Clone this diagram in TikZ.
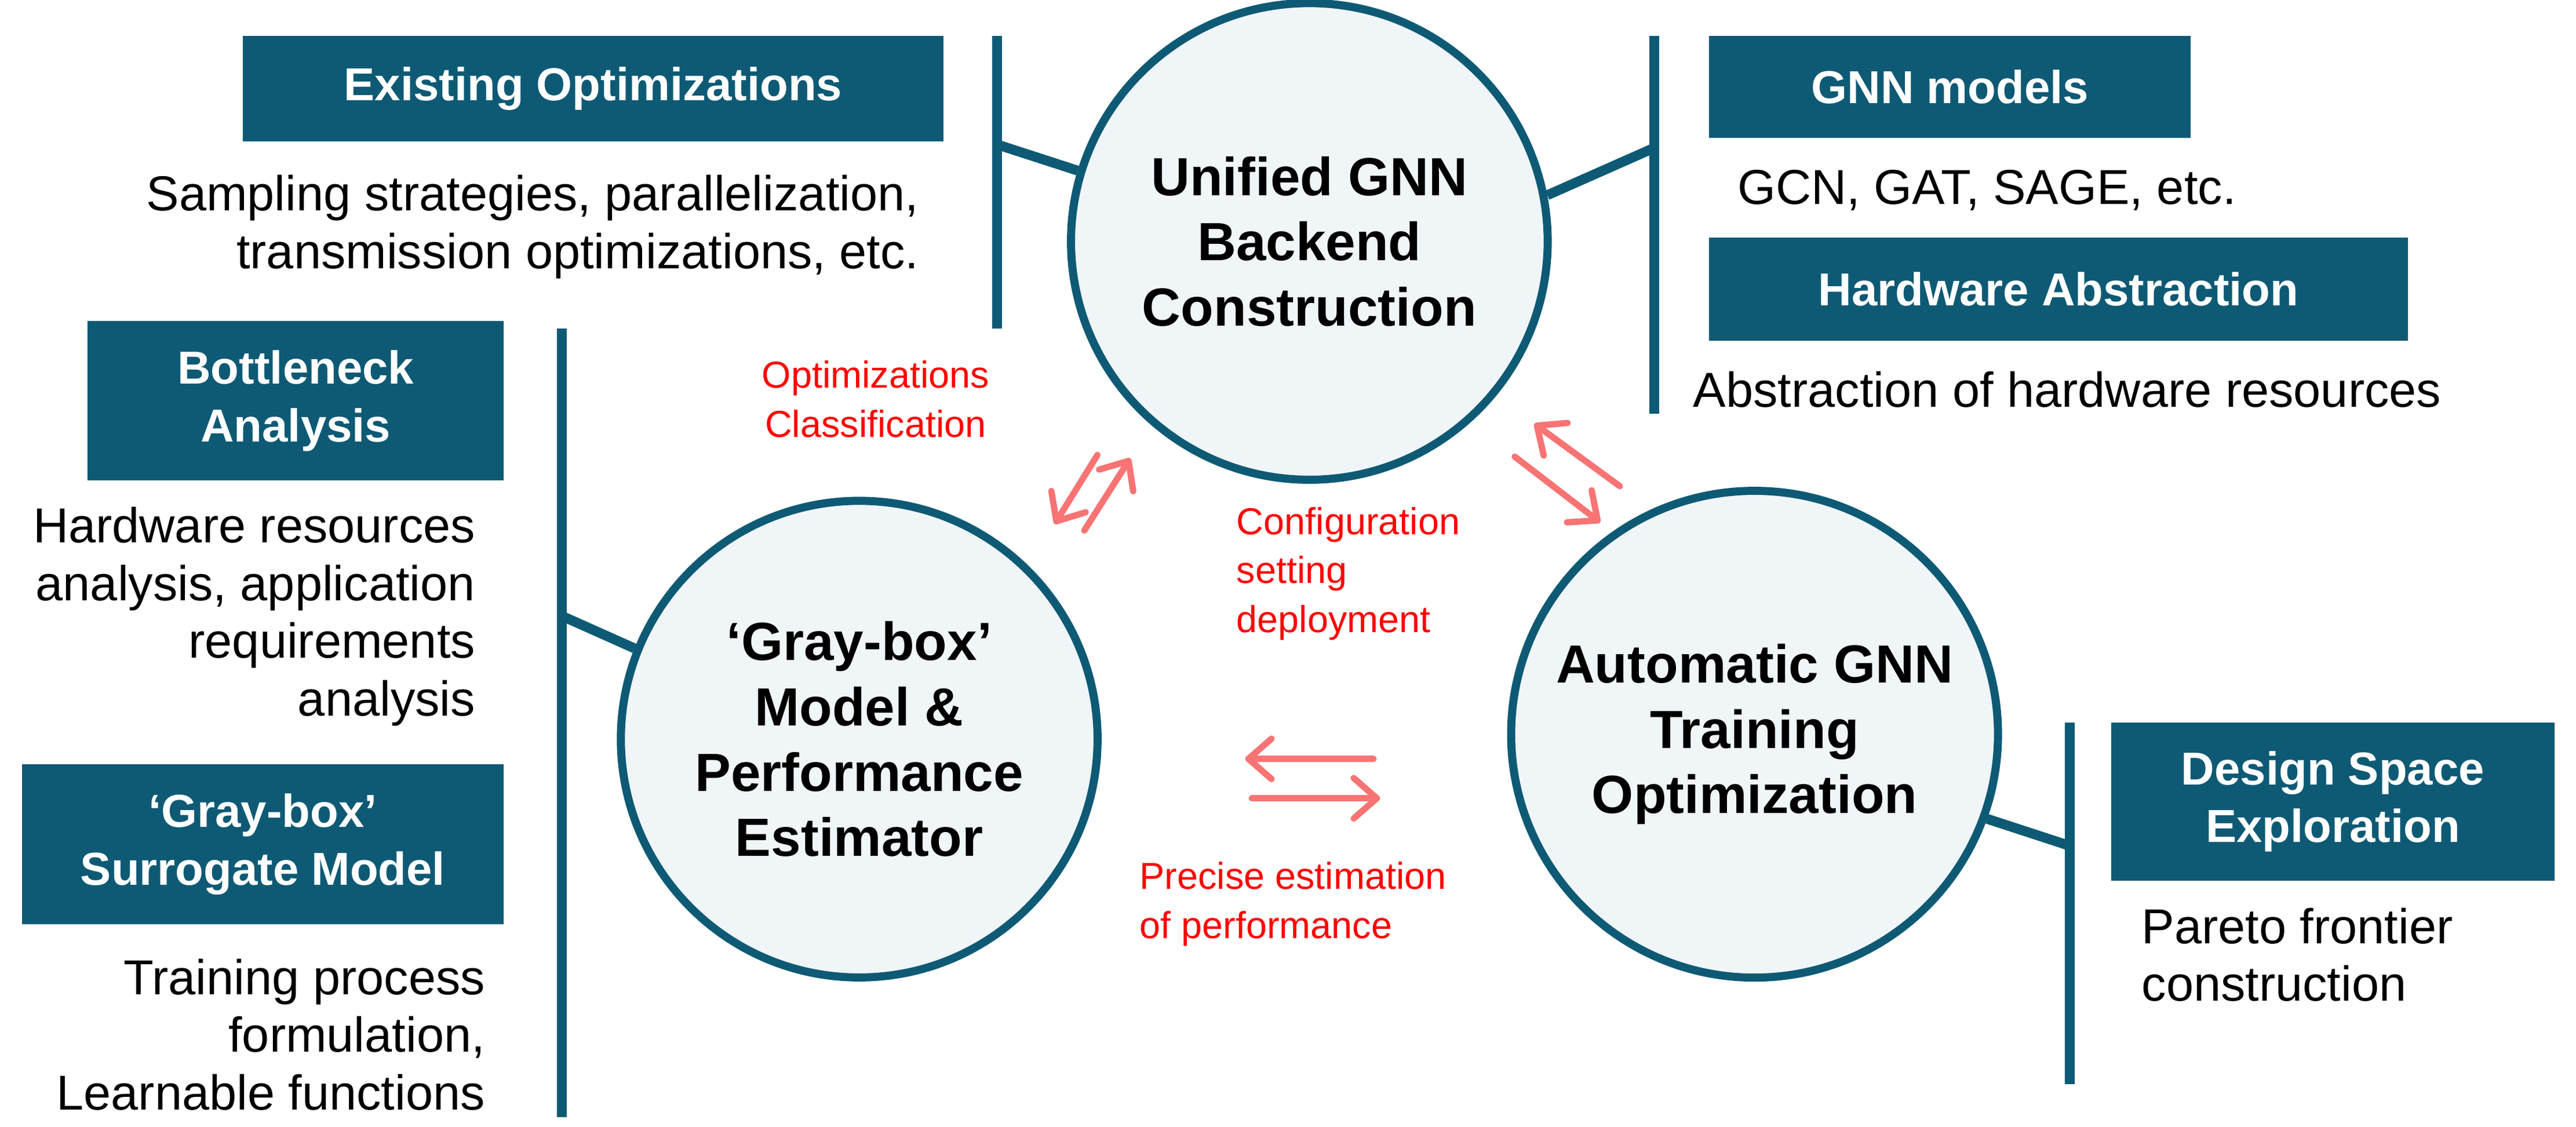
\documentclass[tikz,border=0pt]{standalone}
\usepackage{fontspec}
\setmainfont{Liberation Sans}
\usetikzlibrary{arrows.meta}
\definecolor{teal}{HTML}{0E5A75}
\definecolor{pale}{HTML}{F0F5F8}
\definecolor{pink}{HTML}{F87474}
\tikzset{
    stage/.style = {circle, draw = teal, line width = 1.4pt, fill = pale, minimum size = 2.9cm, align = center, font = \fontsize{9.3}{11.3}\selectfont\bfseries},
    tag/.style = {fill = teal, text = white, align = center, font = \fontsize{8}{10}\selectfont\bfseries, inner sep = 0pt},
    note/.style = {font = \fontsize{8.5}{10}\selectfont, inner sep = 0pt},
    hint/.style = {text = red, font = \fontsize{6.5}{8.5}\selectfont, inner sep = 0pt, align = left},
    bar/.style = {draw = teal, line width = 1.7pt},
    flow/.style = {draw = pink, line width = 1.1pt, line cap = round, -{Straight Barb[length=4pt,width=7pt,round]}}
}
\begin{document}
\begin{tikzpicture}[x = 0.01cm, y = -0.01cm]
    \useasboundingbox (0,0) rectangle (1568,686);
    % the three stages
    \node[stage] (backend) at (797,147) {Unified GNN\\Backend\\Construction};
    \node[stage] (estimator) at (523,450) {`Gray-box'\\Model \&\\Performance\\Estimator};
    \node[stage] (auto) at (1068,447) {Automatic GNN\\Training\\Optimization};
    % side bars
    \coordinate (b1t) at (607,22); \coordinate (b1b) at (607,200);
    \coordinate (b2t) at (1007,22); \coordinate (b2b) at (1007,252);
    \coordinate (b3t) at (342,200); \coordinate (b3b) at (342,680);
    \coordinate (b4t) at (1260,440); \coordinate (b4b) at (1260,660);
    \draw[bar] (b1t)--(b1b);
    \draw[bar] (b2t)--(b2b);
    \draw[bar] (b3t)--(b3b);
    \draw[bar] (b4t)--(b4b);
    \draw[bar] (backend.163)--(607,88);
    \draw[bar] (backend.11)--(1007,90);
    \draw[bar] (estimator.158)--(342,375);
    \draw[bar] (auto.-20)--(1260,515);
    % tags and notes
    \node[tag, minimum width = 4.26cm, minimum height = 0.64cm] (existing) at (361,54) {Existing Optimizations};
    \node[note, align = right, anchor = north east] (sampling) at (560,106) {Sampling strategies, parallelization,\\transmission optimizations, etc.};
    \node[tag, minimum width = 2.93cm, minimum height = 0.62cm] (models) at (1187,53) {GNN models};
    \node[note, anchor = west] (gcn) at (1057,116) {GCN, GAT, SAGE, etc.};
    \node[tag, minimum width = 4.25cm, minimum height = 0.63cm] (hwabs) at (1253,176) {Hardware Abstraction};
    \node[note, anchor = west] (hwres) at (1030,237) {Abstraction of hardware resources};
    \node[tag, minimum width = 2.53cm, minimum height = 0.97cm] (bottle) at (180,244) {Bottleneck\\Analysis};
    \node[note, align = right, anchor = north east] (analysis) at (290,308) {Hardware resources\\analysis, application\\requirements\\analysis};
    \node[tag, minimum width = 2.93cm, minimum height = 0.97cm] (surrogate) at (160,514) {`Gray-box'\\Surrogate Model};
    \node[note, align = right, anchor = north east] (training) at (296,583) {Training process\\formulation,\\Learnable functions};
    \node[tag, minimum width = 2.7cm, minimum height = 0.96cm] (dse) at (1420,488) {Design Space\\Exploration};
    \node[note, align = left, anchor = north west] (pareto) at (1303,552) {Pareto frontier\\construction};
    % red hints
    \node[hint, align = center] (classify) at (533,243) {Optimizations\\Classification};
    \node[hint, anchor = north west] (config) at (752,308) {Configuration\\setting\\deployment};
    \node[hint, anchor = north west] (precise) at (693,524) {Precise estimation\\of performance};
    % double arrows
    \coordinate (p1) at (668,277); \coordinate (p2) at (642,319);
    \coordinate (p3) at (660,323); \coordinate (p4) at (688,279);
    \draw[flow] (p1)--(p2);
    \draw[flow] (p3)--(p4);
    \coordinate (q1) at (986,296); \coordinate (q2) at (934,258);
    \coordinate (q3) at (922,278); \coordinate (q4) at (974,318);
    \draw[flow] (q1)--(q2);
    \draw[flow] (q3)--(q4);
    \coordinate (r1) at (836,462); \coordinate (r2) at (758,462);
    \coordinate (r3) at (762,486); \coordinate (r4) at (840,486);
    \draw[flow] (r1)--(r2);
    \draw[flow] (r3)--(r4);
\end{tikzpicture}
\end{document}
